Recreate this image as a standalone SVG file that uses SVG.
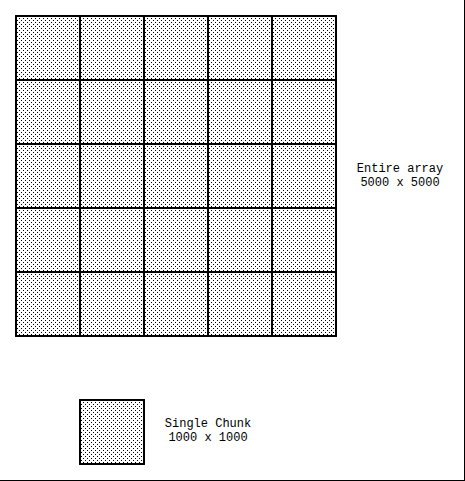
<svg xmlns="http://www.w3.org/2000/svg" width="465" height="481" viewBox="0 0 465 481">
<defs>
<pattern id="stip" x="0" y="0" width="4" height="4" patternUnits="userSpaceOnUse">
<rect width="4" height="4" fill="#fff" shape-rendering="crispEdges"/>
<rect x="1" y="0" width="1" height="1" fill="#000" shape-rendering="crispEdges"/>
<rect x="3" y="2" width="1" height="1" fill="#000" shape-rendering="crispEdges"/>
</pattern>
</defs>
<style>
.cell{fill:url(#stip);stroke:#000;stroke-width:2}
.lbl{font-family:"Liberation Mono","Courier New",monospace;font-size:12px;fill:#000;text-anchor:middle}
</style>
<rect width="465" height="481" fill="#fff"/>
<g id="border" stroke="#000" stroke-width="1">
<line x1="464.5" y1="0" x2="464.5" y2="481"/>
<line x1="0" y1="480.5" x2="465" y2="480.5"/>
</g>
<g id="array">
<rect class="cell" x="16" y="16" width="320" height="320"/>
<g stroke="#000" stroke-width="2">
<line x1="80" y1="16" x2="80" y2="336"/>
<line x1="144" y1="16" x2="144" y2="336"/>
<line x1="208" y1="16" x2="208" y2="336"/>
<line x1="272" y1="16" x2="272" y2="336"/>
<line x1="16" y1="80" x2="336" y2="80"/>
<line x1="16" y1="144" x2="336" y2="144"/>
<line x1="16" y1="208" x2="336" y2="208"/>
<line x1="16" y1="272" x2="336" y2="272"/>
</g>
</g>
<g id="array-label">
<text class="lbl" x="400" y="172">Entire array</text>
<text class="lbl" x="400" y="186">5000 x 5000</text>
</g>
<g id="chunk">
<rect class="cell" x="80" y="400" width="64" height="64"/>
</g>
<g id="chunk-label">
<text class="lbl" x="208" y="427">Single Chunk</text>
<text class="lbl" x="208" y="441">1000 x 1000</text>
</g>
<g id="connectors"/>
</svg>
